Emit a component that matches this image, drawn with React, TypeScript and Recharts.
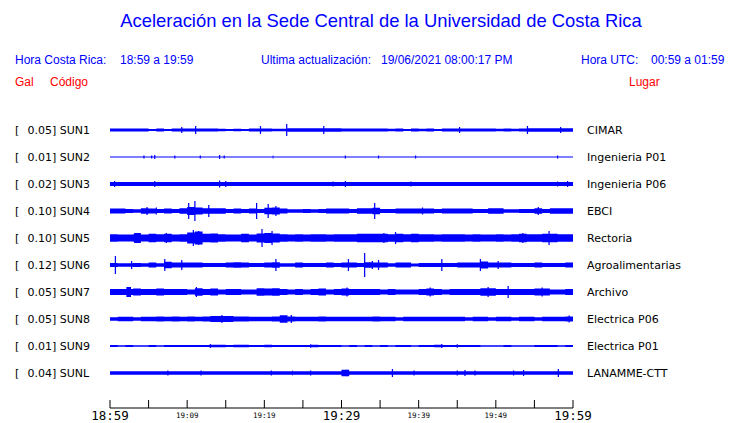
import { ComposedChart, Area, XAxis, YAxis } from 'recharts'

// escala máxima (gal), código y lugar de cada estación
const scales = ['0.05', '0.01', '0.02', '0.10', '0.10', '0.12', '0.05', '0.05', '0.01', '0.04']
const codes = ['SUN1', 'SUN2', 'SUN3', 'SUN4', 'SUN5', 'SUN6', 'SUN7', 'SUN8', 'SUN9', 'SUNL']
const places = [
  'CIMAR', 'Ingenieria P01', 'Ingenieria P06', 'EBCI', 'Rectoria',
  'Agroalimentarias', 'Archivo', 'Electrica P06', 'Electrica P01', 'LANAMME-CTT',
]

// eje de tiempo (minutos desde 18:59)
const xTicks = [0, 5, 10, 15, 20, 25, 30, 35, 40, 45, 50, 55, 60]
const xLabels = ['18:59', '', '19:09', '', '19:19', '', '19:29', '', '19:39', '', '19:49', '', '19:59']

// semi-amplitud de la envolvente por minuto (px de la traza)
const envSUN1 = [1.5, 1.5, 1.5, 1.5, 1.5, 1.1, 1.5, 1.1, 1.5, 1.5, 1.5, 1.5, 1.5, 1.5, 1.3, 1.1, 1.3, 1.1, 1.5, 1.5, 1.5, 1.2, 1.3, 1.7, 1.7, 1.7, 1.7, 1.7, 1.7, 1.7, 1.6, 1.6, 1.6, 1.6, 1.6, 1.6, 1.2, 1.4, 1.1, 1.4, 1.2, 1.4, 1.1, 1.4, 1.6, 1.6, 1.6, 1.6, 1.6, 1.6, 1.2, 1.4, 1.2, 1.4, 1.7, 1.7, 1.7, 1.7, 1.7, 1.7]
const envSUN2 = [0.6, 0.6, 0.6, 0.6, 0.6, 0.6, 0.6, 0.6, 0.6, 0.6, 0.6, 0.6, 0.6, 0.6, 0.6, 0.6, 0.6, 0.6, 0.6, 0.6, 0.6, 0.6, 0.6, 0.6, 0.6, 0.6, 0.6, 0.6, 0.6, 0.6, 0.6, 0.6, 0.6, 0.6, 0.6, 0.6, 0.6, 0.6, 0.6, 0.6, 0.6, 0.6, 0.6, 0.6, 0.6, 0.6, 0.6, 0.6, 0.6, 0.6, 0.6, 0.6, 0.6, 0.6, 0.6, 0.6, 0.6, 0.6, 0.6, 0.6]
const envSUN3 = [1.9, 1.9, 2, 1.9, 1.9, 2, 1.9, 1.9, 2, 1.9, 1.9, 2, 1.9, 1.9, 2.1, 2, 1.9, 1.9, 2, 1.9, 1.9, 2, 1.9, 1.9, 2, 1.9, 1.9, 2, 1.9, 1.9, 2, 1.9, 1.9, 2, 1.9, 1.9, 2, 1.9, 1.9, 2, 1.9, 1.9, 2, 1.9, 1.9, 2, 1.9, 1.9, 2, 1.9, 1.9, 2, 1.9, 1.9, 2, 1.9, 1.9, 2, 2, 2]
const envSUN4 = [2.4, 2.4, 2, 1.8, 2.8, 2.4, 2, 2.4, 2, 2.8, 4, 3.6, 2.8, 2.8, 2.8, 2, 2.4, 2, 2.4, 2, 3.2, 3.6, 2.4, 1.8, 1.8, 2, 1.8, 2, 2.4, 2.4, 2.4, 2, 2.8, 2.8, 3.2, 2, 2, 2.4, 2.4, 2.4, 2.4, 2.4, 2, 2.4, 2.4, 2.4, 2.4, 2, 2, 2.8, 2.8, 1.8, 1.8, 2, 2, 2.8, 2, 2.8, 2.8, 2.8]
const envSUN5 = [3.8, 3.4, 3.4, 3.8, 3.4, 4.2, 3.8, 4.2, 3.4, 3.8, 5.5, 6.5, 4.2, 4.6, 3.8, 3.4, 3.4, 4.2, 3.4, 4.6, 5, 4.6, 3.8, 3.4, 3.8, 3.4, 3.8, 3.8, 3.4, 3.8, 3.8, 3.8, 4.2, 4.2, 4.2, 4.2, 3.8, 4.2, 3.8, 4.2, 3.8, 3.8, 3.4, 3.8, 3.8, 3.8, 3.4, 3.8, 3.4, 3.4, 3.8, 3.4, 3.8, 4.2, 3.8, 3.8, 4.2, 4.2, 3.8, 3.8]
const envSUN6 = [2, 1.8, 1.8, 2, 1.8, 2.4, 1.8, 3.2, 2.4, 2.4, 2.4, 2.4, 2, 2, 2, 2.4, 2.8, 2.4, 2, 2, 2.4, 2.8, 1.8, 1.8, 2.4, 2, 2, 2, 2.4, 2, 2.4, 2.4, 2, 2.8, 2.4, 2.4, 1.8, 2.4, 2.4, 1.4, 2, 2, 2, 2, 2, 2.4, 2.4, 2.4, 3.6, 2.4, 2.4, 2.4, 2, 2, 2, 2.4, 2, 2, 2, 2.4]
const envSUN7 = [3, 3, 3, 3.4, 3, 3, 3.4, 3, 3, 3, 2.6, 3.8, 3, 3.4, 2.6, 3, 3, 2.6, 2.6, 3.8, 3.4, 3.8, 3, 2.6, 3, 2.6, 3, 3.4, 2.6, 3, 3.4, 3, 3, 3, 3, 2.6, 3, 2.6, 2.6, 2.6, 3, 3.4, 3, 2.6, 3, 3, 3, 3, 3.8, 3.8, 3, 3, 3, 3, 3, 3.4, 3.4, 2.6, 2.6, 3]
const envSUN8 = [1.8, 2.2, 2.2, 1.8, 2.2, 2.2, 2.6, 2.2, 2.6, 2.2, 2.6, 2.2, 2.6, 3, 3, 3, 2.6, 2.6, 2.2, 2.2, 2.2, 2.6, 3.8, 2.6, 2.2, 2.2, 2.2, 2.6, 2.2, 2.2, 2.2, 2.2, 2.2, 2.2, 2.6, 2.2, 2.2, 1.8, 2.2, 2.2, 2.2, 2.2, 2.2, 2.2, 2.2, 2.2, 1.8, 2.2, 2.2, 1.8, 2.2, 2.2, 1.8, 2.2, 2.2, 1.8, 2.2, 2.2, 2.2, 2.6]
const envSUN9 = [0.9, 0.7, 1, 0.7, 0.7, 1, 0.8, 1, 1.1, 1.1, 1, 1.1, 1.1, 1.2, 1.2, 1.1, 1.2, 1.2, 1, 1.1, 1.2, 1.1, 1, 1.1, 1, 1.1, 1.2, 1.1, 1, 1.1, 0.8, 1, 0.8, 1, 0.8, 1, 0.7, 0.9, 1, 0.8, 1.1, 1.1, 1.2, 1, 0.9, 1.1, 1.1, 1, 0.8, 0.7, 0.7, 0.9, 0.7, 0.8, 0.7, 0.9, 1.1, 1, 0.8, 1]
const envSUNL = [1.8, 1.8, 1.8, 1.8, 1.8, 1.8, 1.8, 1.8, 1.8, 1.8, 1.8, 1.8, 1.8, 1.8, 1.8, 1.8, 1.8, 1.8, 1.8, 1.8, 1.8, 1.8, 1.8, 1.8, 1.8, 1.8, 1.8, 1.8, 1.8, 1.8, 3.2, 1.8, 1.8, 1.8, 1.8, 1.8, 1.8, 1.8, 1.8, 1.8, 1.8, 1.8, 1.8, 1.8, 1.8, 1.8, 1.8, 1.8, 1.8, 1.8, 1.8, 1.8, 1.8, 1.8, 1.8, 1.8, 1.8, 1.8, 1.8, 1.8]

// picos aislados: [minuto, semi-amplitud]
const spkSUN1 = [[9.3, 3], [11.1, 4], [19.5, 4], [22.9, 6], [27.7, 4], [45.3, 3], [54.1, 4], [58.4, 3]]
const spkSUN2 = [[4.4, 1.5], [5.4, 1.5], [5.8, 2], [8.4, 1.5], [11.7, 1.5], [14.2, 2], [14.8, 1.5], [21.1, 1.5], [30.5, 1.5], [34.8, 1.5], [39.6, 1.5], [48.2, 1.5], [58, 1.5]]
const spkSUN3 = [[0.6, 3], [5.8, 3], [14.2, 3.5], [15, 3], [27.1, 2.5], [28.9, 2.5], [30.5, 3], [39, 2.5], [58, 2.5], [59.3, 3]]
const spkSUN4 = [[4.8, 4], [6, 3.5], [10.2, 8], [11, 10], [12.8, 6], [19, 8], [20.5, 7], [21.5, 5], [34.3, 8], [40.5, 3.5], [55.5, 4], [59.7, 5]]
const spkSUN5 = [[3.2, 5], [7.3, 5], [10.8, 8], [11.5, 7], [19.7, 9], [21, 7], [35.5, 5], [37, 6], [53.5, 5], [56.9, 7]]
const spkSUN6 = [[0.7, 9], [2.8, 4], [7.1, 6], [9.3, 5], [21.5, 6], [30.9, 6], [33, 12], [34, 4], [34.8, 5], [35.7, 4], [43, 6], [48, 6], [50.3, 4]]
const spkSUN7 = [[2.2, 5], [11.2, 5], [19.3, 6], [21.3, 5.5], [30.7, 4.5], [41.5, 4.5], [49, 5], [51.6, 6], [56, 4.5]]
const spkSUN8 = [[14.5, 4], [22.3, 5], [23.5, 4], [59.5, 3.5]]
const spkSUN9 = [[13, 2], [26, 1.8], [43, 2], [45, 1.8]]
const spkSUNL = [[0.2, 3], [7.5, 2.5], [11.8, 2.5], [20.9, 2.5], [23.6, 2.5], [26, 2.5], [30.1, 5], [30.6, 3.5], [36.6, 4], [39.4, 2.5], [43.7, 2.5], [45, 2.5], [46, 3], [47.3, 2.5], [52.3, 2.5], [53.6, 3], [58.1, 4]]

const envs = [envSUN1, envSUN2, envSUN3, envSUN4, envSUN5, envSUN6, envSUN7, envSUN8, envSUN9, envSUNL]
const spikes = [spkSUN1, spkSUN2, spkSUN3, spkSUN4, spkSUN5, spkSUN6, spkSUN7, spkSUN8, spkSUN9, spkSUNL]

const BLUE = '#0000ff'
const ROW = 27
const TOP = 291.5
const centers = codes.map((_, i) => 278 - ROW * i)
const SPK_W = 0.08

const ampAt = (si: number, t: number) => {
  let a = envs[si][Math.min(59, Math.floor(t))]
  for (const [st, amp] of spikes[si]) {
    if (t >= st - SPK_W && t < st + SPK_W) a = Math.max(a, amp)
  }
  return a
}

const timeSet = new Set<number>()
for (let m = 0; m <= 60; m++) timeSet.add(m)
spikes.forEach(list => list.forEach(([st]) => {
  timeSet.add(+(st - SPK_W).toFixed(3))
  timeSet.add(+(st + SPK_W).toFixed(3))
}))
const times = [...timeSet].filter(t => t >= 0 && t <= 60).sort((a, b) => a - b)

const rows = times.map(t => {
  const row: any = { t }
  codes.forEach((_, i) => {
    const a = ampAt(i, t)
    row[`s${i}`] = [centers[i] - a, centers[i] + a]
  })
  return row
})

function TimeTick({ x, y, payload, index }: any) {
  const label = xLabels[index] ?? ''
  const major = payload.value % 30 === 0
  return (
    <g>
      <line x1={x} x2={x} y1={y - 8} y2={y} stroke="#000" />
      {label && (
        <text
          x={x}
          y={major ? y + 12 : y + 10}
          textAnchor="middle"
          fontSize={major ? 12.5 : 7.5}
          fontFamily="'DejaVu Sans Mono', monospace"
          fill="#000"
        >
          {label}
        </text>
      )}
    </g>
  )
}

function CodeTick({ x, y, payload }: any) {
  const i = centers.indexOf(payload.value)
  return (
    <text y={y} dy="0.35em" fontSize={11} fontFamily="'DejaVu Sans', sans-serif" fill="#000">
      <tspan x={x - 95}>[</tspan>
      <tspan x={x - 82.5}>{`${scales[i]}] ${codes[i]}`}</tspan>
    </text>
  )
}

function PlaceTick({ x, y, payload }: any) {
  const i = centers.indexOf(payload.value)
  return (
    <text x={x + 14} y={y} dy="0.35em" fontSize={11} fontFamily="'DejaVu Sans', sans-serif" fill="#000">
      {places[i]}
    </text>
  )
}

const sans = "'Liberation Sans', Arial, sans-serif"

export default function App() {
  return (
    <div style={{ position: 'absolute', left: 0, top: 0, width: 740, height: 423, background: '#fff', fontFamily: sans }}>
      <div style={{ position: 'absolute', left: 0, width: 762, top: 11, textAlign: 'center', fontSize: 18.4, color: BLUE, lineHeight: '20px' }}>
        Aceleración en la Sede Central de la Universidad de Costa Rica
      </div>
      <div style={{ position: 'absolute', top: 53, left: 15, fontSize: 12, color: BLUE, lineHeight: '14px' }}>Hora Costa Rica:</div>
      <div style={{ position: 'absolute', top: 53, left: 120, fontSize: 12, color: BLUE, lineHeight: '14px' }}>18:59 a 19:59</div>
      <div style={{ position: 'absolute', top: 53, left: 261, fontSize: 12, color: BLUE, lineHeight: '14px' }}>Ultima actualización:</div>
      <div style={{ position: 'absolute', top: 53, left: 381, fontSize: 12, color: BLUE, lineHeight: '14px' }}>19/06/2021 08:00:17 PM</div>
      <div style={{ position: 'absolute', top: 53, left: 581, fontSize: 12, color: BLUE, lineHeight: '14px' }}>Hora UTC:</div>
      <div style={{ position: 'absolute', top: 53, left: 651, fontSize: 12, color: BLUE, lineHeight: '14px' }}>00:59 a 01:59</div>
      <div style={{ position: 'absolute', top: 75, left: 15, fontSize: 12, color: '#ff0000', lineHeight: '14px' }}>Gal</div>
      <div style={{ position: 'absolute', top: 75, left: 50, fontSize: 12, color: '#ff0000', lineHeight: '14px' }}>Código</div>
      <div style={{ position: 'absolute', top: 75, left: 629, fontSize: 12, color: '#ff0000', lineHeight: '14px' }}>Lugar</div>

      <div style={{ position: 'absolute', left: 0, top: 0 }}>
        <ComposedChart width={740} height={423} data={rows} margin={{ top: 116.5, right: 0, bottom: 0, left: 0 }}>
          <XAxis
            dataKey="t"
            type="number"
            domain={[0, 60]}
            ticks={xTicks}
            interval={0}
            height={15}
            tickSize={0}
            tickMargin={0}
            tickLine={false}
            axisLine={{ stroke: '#000' }}
            tick={<TimeTick />}
            allowDataOverflow
          />
          <YAxis
            yAxisId="l"
            type="number"
            domain={[0, TOP]}
            ticks={centers}
            interval={0}
            width={110}
            tickSize={0}
            tickMargin={0}
            axisLine={false}
            tickLine={false}
            tick={<CodeTick />}
            allowDataOverflow
          />
          <YAxis
            yAxisId="r"
            orientation="right"
            type="number"
            domain={[0, TOP]}
            ticks={centers}
            interval={0}
            width={167}
            tickSize={0}
            tickMargin={0}
            axisLine={false}
            tickLine={false}
            tick={<PlaceTick />}
            allowDataOverflow
          />
          {codes.map((c, i) => (
            <Area
              key={c}
              yAxisId="l"
              dataKey={`s${i}`}
              type="stepAfter"
              stroke="none"
              fill={BLUE}
              fillOpacity={1}
              dot={false}
              activeDot={false}
              isAnimationActive={false}
            />
          ))}
        </ComposedChart>
      </div>
    </div>
  )
}
